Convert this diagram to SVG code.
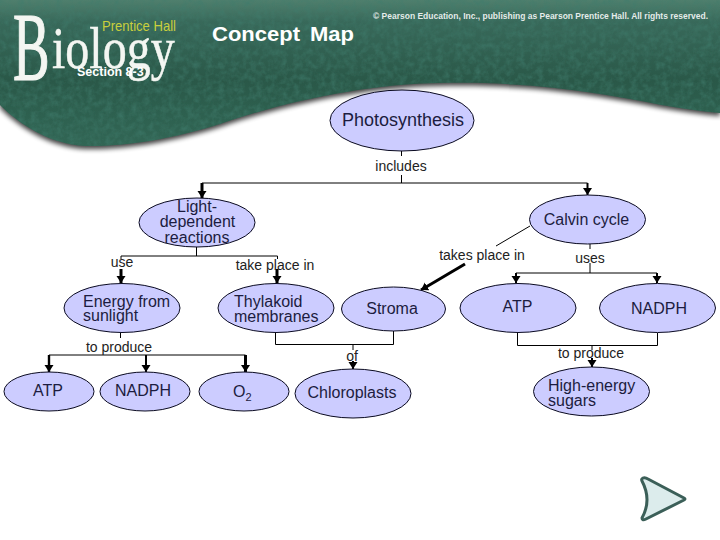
<svg xmlns="http://www.w3.org/2000/svg" width="720" height="540" viewBox="0 0 720 540">
<style>
.n{fill:#ccccff;stroke:#0a0a20;stroke-width:1}
.t{font-family:"Liberation Sans",Arial,sans-serif;font-size:16px;fill:#1c1c40}
.m{text-anchor:middle}
.l{font-family:"Liberation Sans",Arial,sans-serif;font-size:14px;fill:#222;text-anchor:middle}
.c{fill:none;stroke:#000;stroke-width:1}
.a{fill:none;stroke:#000;stroke-width:3;marker-end:url(#h)}
.f{stroke-width:2}
.w{font-family:"Liberation Sans",Arial,sans-serif;font-weight:bold;fill:#fff}
.s{font-family:"Liberation Serif","Times New Roman",serif;fill:#f4f6f2;stroke:#f4f6f2}
</style>
<defs>
<marker id="h" markerUnits="userSpaceOnUse" markerWidth="9" markerHeight="10" refX="7" refY="5" orient="auto"><path d="M0 .5L7 5L0 9.5Z" fill="#000"/></marker>
<linearGradient id="g" x1="0" y1="0" x2="0" y2="1"><stop offset="0" stop-color="#4f7f6d"/><stop offset=".15" stop-color="#38695a"/><stop offset=".55" stop-color="#2a5848"/><stop offset=".8" stop-color="#2e6150"/><stop offset="1" stop-color="#326655"/></linearGradient>
<filter id="b" x="-5%" y="-10%" width="110%" height="125%"><feGaussianBlur stdDeviation="2.5"/></filter>
<filter id="tx" x="0" y="0" width="100%" height="100%"><feTurbulence type="fractalNoise" baseFrequency=".16" numOctaves="3" seed="4"/><feColorMatrix values="0 0 0 0 .05 0 0 0 0 .2 0 0 0 0 .15 1.2 0 0 0 -.45"/><feComposite in2="SourceGraphic" operator="in"/></filter>
<path id="bn" d="M0 0H720V113C680 110 640 100 600 94C550 86 500 82 440 83C370 84 290 100 220 124C170 140 120 147 85 146C50 144 20 125 0 105Z"/>
</defs>
<rect width="720" height="540" fill="#fff"/>
<g id="banner">
<use href="#bn" y="3" fill="#000" opacity=".75" filter="url(#b)"/>
<use href="#bn" fill="url(#g)"/>
<use href="#bn" filter="url(#tx)"/>
<text class="s" transform="translate(13 80) scale(.56 1)" font-size="98" stroke-width="1.2">B</text>
<text class="s" transform="translate(52 68) scale(.8 1)" font-size="60" stroke-width=".5">iology</text>
<text x="102" y="31" font-family="'Liberation Sans',sans-serif" font-size="15" fill="#c9cf3c" textLength="74" lengthAdjust="spacingAndGlyphs">Prentice Hall</text>
<text class="w" x="373" y="19" font-size="9.5" fill-opacity=".88" textLength="335" lengthAdjust="spacingAndGlyphs">© Pearson Education, Inc., publishing as Pearson Prentice Hall. All rights reserved.</text>
<text class="w" transform="translate(212 41) scale(1.1 1)" font-size="20" word-spacing="3.5">Concept Map</text>
<text class="w" x="77" y="76" font-size="12.5">Section 8-3</text>
</g>
<g id="connectors">
<path class="c" d="M401.5 151V156M401.5 175V183M202 183H587.5"/>
<path class="a" d="M202 183V198"/><path class="a f" d="M587.5 183V195"/>
<path class="c" d="M196.5 247V256M121 259V256H277.5V259"/>
<path class="a" d="M121 269V283"/><path class="a" d="M277 269V283"/>
<path class="c" d="M530 226L496 246"/>
<path class="a" d="M465 264L421 290"/>
<path class="c" d="M590 244V249M590 263V273M516 273H657"/>
<path class="a f" d="M516 273V283"/><path class="a f" d="M657 273V283"/>
<path class="c" d="M120.5 333V338M49 355H245.5"/>
<path class="a" d="M49 355V372" style="stroke-width:2.4"/><path class="a f" d="M146 355V372"/><path class="a" d="M245.5 355V372"/>
<path class="c" d="M275.5 333V344.5H393.5V331M353 344.5V350"/>
<path class="a f" d="M353 361V369"/>
<path class="c" d="M517.5 333V345.5H657.5V333M592 345.5V350"/>
<path class="a f" d="M592 358V367"/>
</g>
<g id="photosynthesis"><ellipse class="n" cx="402" cy="120.5" rx="72" ry="30.5"/><text class="t m" style="font-size:18px" x="403" y="126">Photosynthesis</text></g>
<g id="light"><ellipse class="n" cx="197" cy="222.5" rx="58" ry="24.5"/><text class="t m" x="197" y="212">Light-</text><text class="t m" x="197.5" y="227">dependent</text><text class="t m" x="197" y="243">reactions</text></g>
<g id="calvin"><ellipse class="n" cx="587.5" cy="219.5" rx="58" ry="24.5"/><text class="t m" x="586.5" y="225">Calvin cycle</text></g>
<g id="energy"><ellipse class="n" cx="122" cy="308" rx="58" ry="24.5"/><text class="t" x="83" y="307">Energy from</text><text class="t" x="83" y="321">sunlight</text></g>
<g id="thylakoid"><ellipse class="n" cx="276" cy="308" rx="58" ry="24.5"/><text class="t" x="234" y="307">Thylakoid</text><text class="t" x="234" y="322">membranes</text></g>
<g id="stroma"><ellipse class="n" cx="393.5" cy="309" rx="52" ry="22"/><text class="t m" x="392" y="314">Stroma</text></g>
<g id="atp1"><ellipse class="n" cx="518" cy="308" rx="58" ry="24.5"/><text class="t m" x="517.5" y="312">ATP</text></g>
<g id="nadph1"><ellipse class="n" cx="657.5" cy="308" rx="58" ry="24.5"/><text class="t m" x="659" y="314">NADPH</text></g>
<g id="atp2"><ellipse class="n" cx="49" cy="391.5" rx="45" ry="19.5"/><text class="t m" x="48" y="396">ATP</text></g>
<g id="nadph2"><ellipse class="n" cx="145" cy="391.5" rx="45" ry="19.5"/><text class="t m" x="143" y="396">NADPH</text></g>
<g id="o2"><ellipse class="n" cx="244" cy="391.5" rx="45" ry="19.5"/><text class="t" x="233" y="397">O<tspan dy="4" font-size="11">2</tspan></text></g>
<g id="chloroplasts"><ellipse class="n" cx="353" cy="393.5" rx="58" ry="24.5"/><text class="t m" x="352" y="398">Chloroplasts</text></g>
<g id="sugars"><ellipse class="n" cx="591.5" cy="391.5" rx="58" ry="24.5"/><text class="t" x="548" y="391">High-energy</text><text class="t" x="548" y="406">sugars</text></g>
<g id="labels">
<text class="l" x="401" y="171">includes</text><text class="l" x="122" y="267">use</text><text class="l" x="275" y="270">take place in</text>
<text class="l" x="482" y="260">takes place in</text><text class="l" x="590" y="263">uses</text><text class="l" x="119" y="352">to produce</text>
<text class="l" x="352" y="361">of</text><text class="l" x="591" y="358">to produce</text>
</g>
<g id="next"><path d="M643 478Q645 477 648 479L684 498Q686 499 684 500L646 519Q642 521 642 518Q652 500 642 481Q641 479 643 478Z" fill="#dcecec" stroke="#3b5f58" stroke-width="3" stroke-linejoin="round"/></g>
</svg>
